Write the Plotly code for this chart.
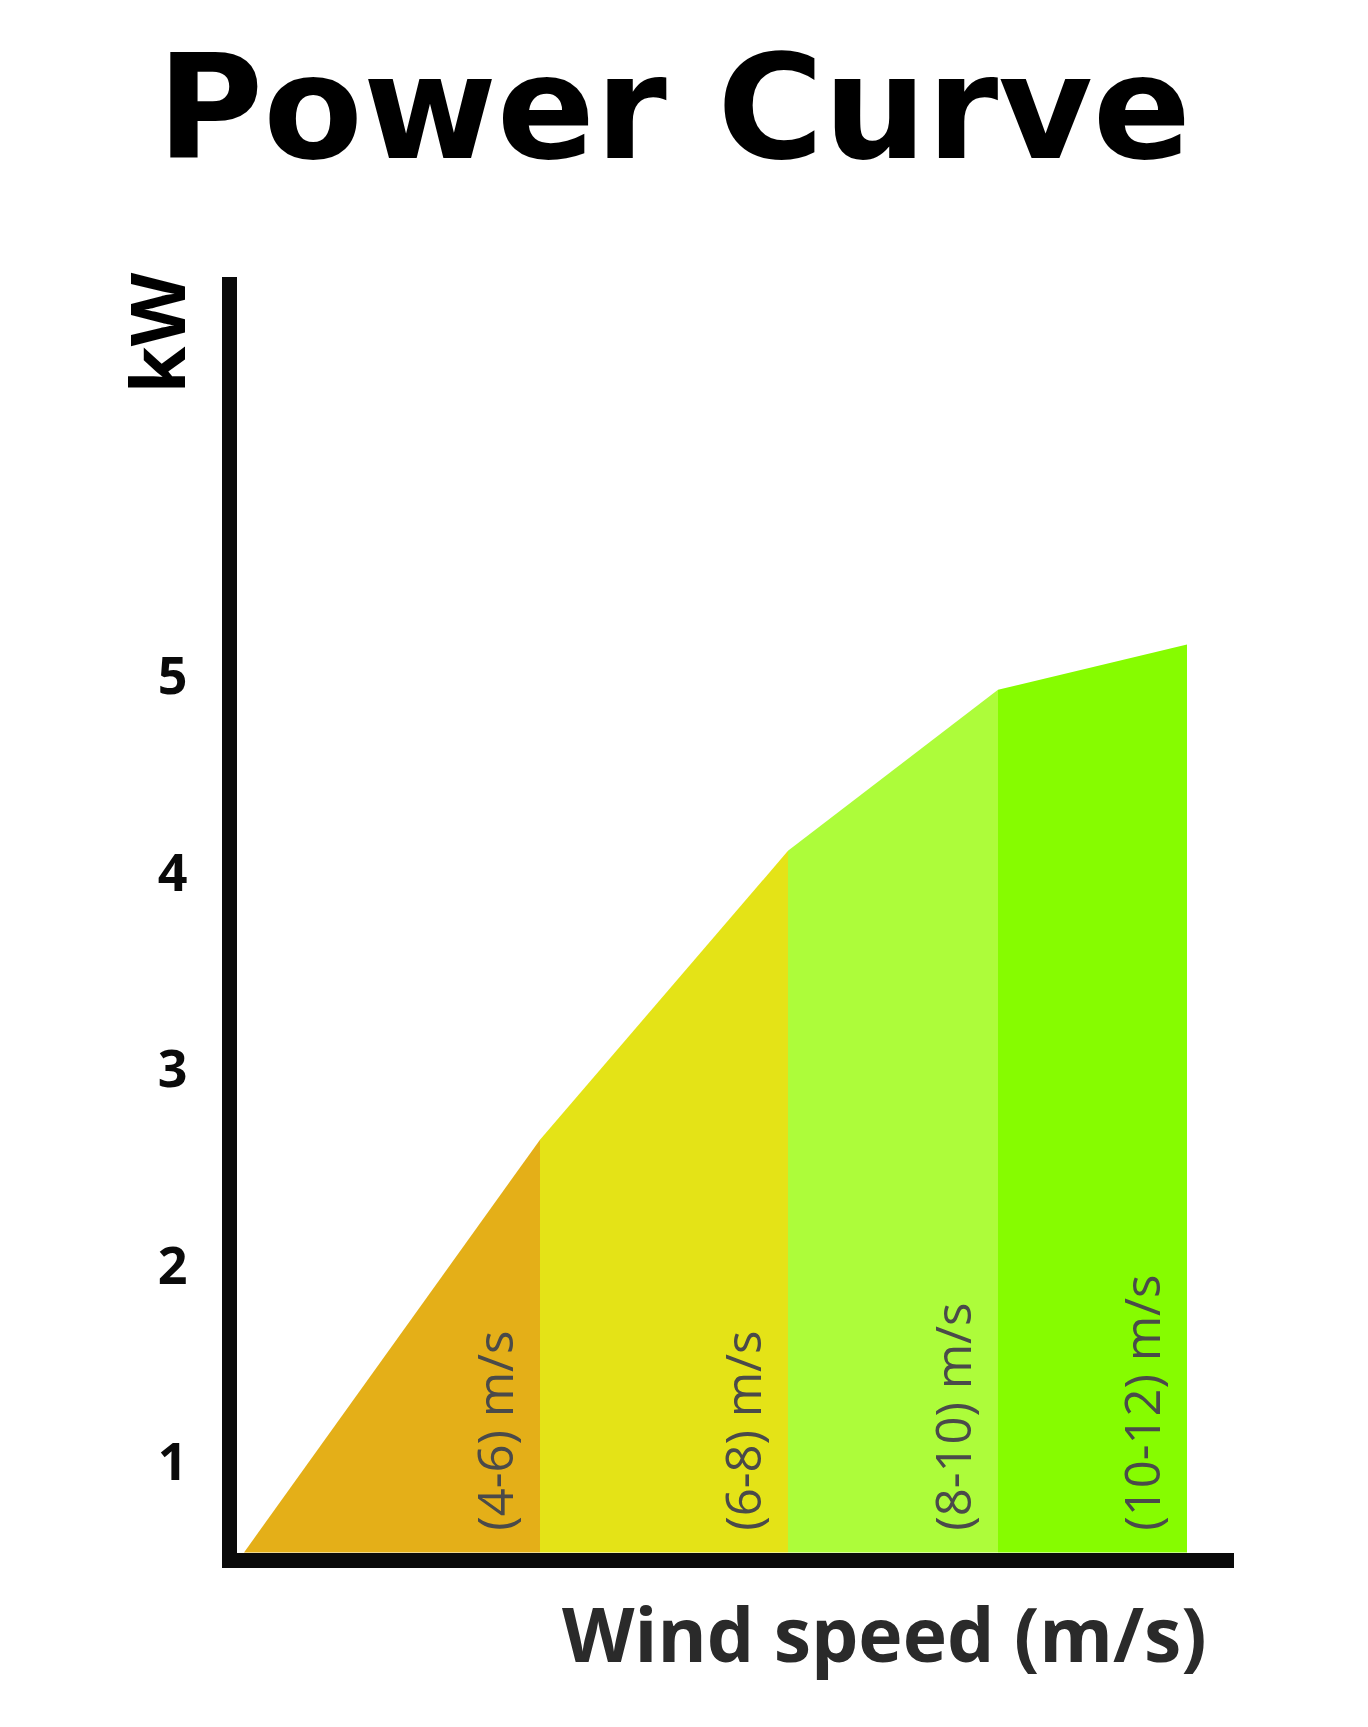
import plotly.graph_objects as go

# ---- data ----
band_labels = ["(4-6) m/s", "(6-8) m/s", "(8-10) m/s", "(10-12) m/s"]
band_edges = [0.07, 3.03, 5.51, 7.61, 9.50]        # x positions of band boundaries
power_kw = [0.54, 2.64, 4.11, 4.93, 5.16]           # curve height at each boundary (kW)
band_colors = ["#E4AF18", "#E4E317", "#ADFC3A", "#86FC00"]
y_ticks = [1, 2, 3, 4, 5]
baseline = 0.54

fig = go.Figure()

for i in range(len(band_labels)):
    x0, x1 = band_edges[i], band_edges[i + 1]
    y0, y1 = power_kw[i], power_kw[i + 1]
    fig.add_trace(go.Scatter(
        x=[x0, x0, x1, x1, x0],
        y=[baseline, y0, y1, baseline, baseline],
        fill="toself",
        fillcolor=band_colors[i],
        mode="lines",
        line=dict(width=0, color=band_colors[i]),
        hoverinfo="skip",
        showlegend=False,
    ))
    fig.add_annotation(
        x=x1 - 0.46, y=0.64, xref="x", yref="y",
        text=band_labels[i], textangle=-90,
        xanchor="center", yanchor="bottom", showarrow=False,
        font=dict(family="Open Sans", size=49, color="#4A4A4A"),
    )

# title
fig.add_annotation(
    x=0.438, y=1.1325, xref="paper", yref="paper",
    text="<b>Power Curve</b>", showarrow=False,
    xanchor="center", yanchor="middle",
    font=dict(family="DejaVu Sans", size=145, color="#000000"),
)
# y title
fig.add_annotation(
    x=-0.082, y=0.956, xref="paper", yref="paper",
    text="<b>kW</b>", textangle=-90, showarrow=False,
    xanchor="center", yanchor="middle",
    font=dict(family="Open Sans", size=76, color="#000000"),
)
# x title
fig.add_annotation(
    x=0.9745, y=-0.063, xref="paper", yref="paper",
    text="<b>Wind speed (m/s)</b>", showarrow=False,
    xanchor="right", yanchor="middle",
    font=dict(family="Open Sans", size=75, color="#2A2A2A"),
)

fig.update_xaxes(
    range=[0, 9.97], showgrid=False, zeroline=False,
    showticklabels=False, ticks="",
    showline=True, linewidth=15, linecolor="#0A0A0A",
)
fig.update_yaxes(
    range=[0.537, 7.03], showgrid=False, zeroline=False,
    tickvals=y_ticks, ticktext=[str(v) for v in y_ticks], ticks="",
    tickfont=dict(family="Open Sans", size=52, color="#0A0A0A", weight="bold"),
    showline=True, linewidth=15, linecolor="#0A0A0A",
    ticklabelstandoff=24,
)

fig.update_layout(
    width=1352, height=1711,
    margin=dict(l=229, r=126, t=269, b=166),
    plot_bgcolor="white", paper_bgcolor="white",
)

fig.write_html("out.html")
